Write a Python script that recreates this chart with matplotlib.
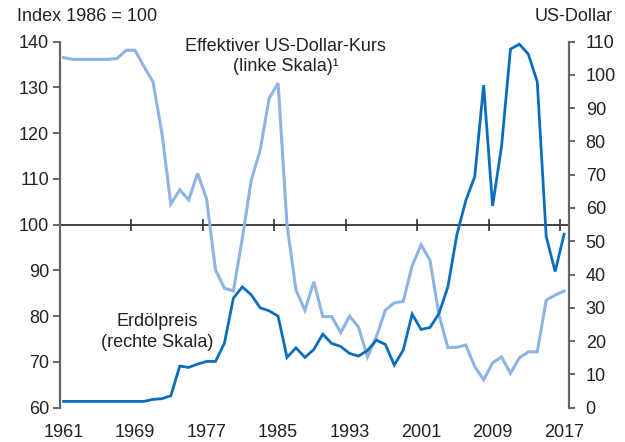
import numpy as np
import matplotlib
matplotlib.use("Agg")
import matplotlib.pyplot as plt

plt.rcParams["font.family"] = ["Liberation Sans", "DejaVu Sans"]

# ---------------------------------------------
# DATA
# ---------------------------------------------
years = np.arange(1961, 2018)

# effective US dollar index, left scale (1986 = 100)
dollar_index = [136.5, 136.1, 136.1, 136.1, 136.1, 136.1, 136.3, 138.1, 138.1, 134.5,
                131.2, 120.0, 104.5, 107.6, 105.4, 111.2, 105.6, 90.1, 86.1, 85.5,
                97.0, 109.7, 116.3, 127.6, 130.9, 100.0, 85.7, 81.3, 87.5, 79.9,
                79.9, 76.4, 80.0, 77.6, 71.1, 75.5, 81.3, 82.9, 83.2, 91.0,
                95.6, 92.2, 80.3, 73.1, 73.2, 73.7, 69.0, 66.1, 69.8, 71.1,
                67.5, 70.9, 72.2, 72.2, 83.5, 84.6, 85.5]

# crude oil price in US dollar, right scale
oil_price = [1.9, 1.9, 1.9, 1.9, 1.9, 1.9, 1.9, 1.9, 1.9, 1.9,
             2.5, 2.7, 3.6, 12.5, 12.1, 13.1, 13.9, 13.9, 19.4, 32.9,
             36.3, 33.9, 30.0, 29.1, 27.5, 15.1, 18.0, 15.1, 17.5, 22.1,
             19.3, 18.4, 16.3, 15.5, 17.2, 20.3, 19.0, 12.8, 17.3, 28.1,
             23.5, 24.1, 28.3, 36.3, 51.9, 62.2, 69.4, 96.9, 60.6, 78.4,
             107.7, 109.2, 106.2, 97.9, 51.4, 40.9, 52.1]

x_labels = [1961, 1969, 1977, 1985, 1993, 2001, 2009, 2017]
left_ticks = list(range(60, 141, 10))
right_ticks = list(range(0, 111, 10))

LIGHT = "#8db4e2"
DARK = "#0b6ebd"
SPINE = "#666666"
TEXT = "#222222"
FS = 13

fig = plt.figure(figsize=(6.25, 4.42), dpi=100)
ax = fig.add_axes([0.096, 0.0776, 0.8144, 0.8285])
ax2 = ax.twinx()

# dollar index (left)
ax.plot(years, dollar_index, color=LIGHT, lw=2.2, solid_joinstyle="miter")
ax.set_ylim(60, 140)
ax.set_yticks(left_ticks)
ax.set_xlim(1960.6, 2017.55)
ax.set_xticks(x_labels)
ax.tick_params(axis="x", length=0, pad=12, labelsize=FS, labelcolor=TEXT)
ax.tick_params(axis="y", direction="out", length=5, width=1.4, color=SPINE,
               pad=3, labelsize=FS, labelcolor=TEXT)

# reference line at 100 with year ticks crossing it
ax.axhline(100, color="#333333", lw=1.3, zorder=1)
ax.plot(np.array(x_labels) - 0.45, [100] * len(x_labels), ls="none",
        marker="|", markersize=8.5, mew=1.2, color="#333333", zorder=1)

# oil price (right)
ax2.plot(years, oil_price, color=DARK, lw=2.0, solid_joinstyle="miter")
ax2.set_ylim(0, 110)
ax2.set_yticks(right_ticks)
ax2.tick_params(axis="y", direction="out", length=4, width=1.4, color=SPINE,
                pad=8, labelsize=FS, labelcolor=TEXT)

for a in (ax, ax2):
    a.spines["top"].set_visible(False)
    a.spines["bottom"].set_visible(False)
    a.spines["left"].set_color(SPINE)
    a.spines["right"].set_color(SPINE)
    a.spines["left"].set_linewidth(1.6)
    a.spines["right"].set_linewidth(1.6)
ax.spines["right"].set_visible(False)
ax2.spines["left"].set_visible(False)

# labels
fig.text(0.027, 0.962, "Index 1986 = 100", fontsize=FS, color=TEXT,
         ha="left", va="center")
fig.text(0.981, 0.962, "US-Dollar", fontsize=FS, color=TEXT,
         ha="right", va="center")
fig.text(0.457, 0.872, "Effektiver US-Dollar-Kurs\n(linke Skala)\u00b9",
         fontsize=FS, color=TEXT, ha="center", va="center", linespacing=1.25)
fig.text(0.252, 0.249, "Erdölpreis\n(rechte Skala)", fontsize=FS, color=TEXT,
         ha="center", va="center", linespacing=1.3)

fig.savefig("out.png", dpi=100)
